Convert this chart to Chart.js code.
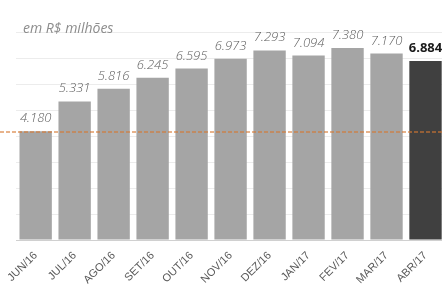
<!DOCTYPE html>
<html>
<head>
<meta charset="utf-8">
<script src="https://cdn.jsdelivr.net/npm/chart.js@4.4.0/dist/chart.umd.min.js"></script>
<style>
  html, body { margin: 0; padding: 0; background: #fff; overflow: hidden; }
  #wrap { position: absolute; left: 0; top: 0; width: 446px; height: 286px; }
  #titulo {
    position: absolute; left: 23px; top: 18px;
    font: italic 14px "Open Sans", sans-serif; color: #8c8c8c;
  }
</style>
</head>
<body>
<div id="wrap"><canvas id="chart"></canvas></div>
<div id="titulo">em R$ milhões</div>
<script>
// dados do grafico
const meses = ['JUN/16', 'JUL/16', 'AGO/16', 'SET/16', 'OUT/16', 'NOV/16', 'DEZ/16', 'JAN/17', 'FEV/17', 'MAR/17', 'ABR/17'];
const valores = [4180, 5331, 5816, 6245, 6595, 6973, 7293, 7094, 7380, 7170, 6884];
const rotulos = ['4.180', '5.331', '5.816', '6.245', '6.595', '6.973', '7.293', '7.094', '7.380', '7.170', '6.884'];
const referencia = 4180; // linha tracejada (valor de JUN/16)

const cores = valores.map((v, i) => i === valores.length - 1 ? '#404040' : '#a5a5a5');

// desenha os valores acima das barras e a linha de referencia
const rotulosPlugin = {
  id: 'rotulos',
  afterDatasetsDraw(chart) {
    const ctx = chart.ctx;
    const meta = chart.getDatasetMeta(0);
    ctx.save();
    ctx.textAlign = 'center';
    ctx.textBaseline = 'alphabetic';
    meta.data.forEach((bar, i) => {
      const ultimo = i === meta.data.length - 1;
      ctx.font = ultimo ? 'bold 13px "Open Sans", sans-serif' : 'italic 300 13px "Open Sans", sans-serif';
      ctx.fillStyle = ultimo ? '#1a1a1a' : '#5e5e5e';
      ctx.fillText(rotulos[i], bar.x, bar.y - 9);
    });
    // linha laranja tracejada
    const y = Math.round(chart.scales.y.getPixelForValue(referencia)) + 1;
    ctx.strokeStyle = 'rgba(214, 120, 50, 0.75)';
    ctx.lineWidth = 1.5;
    ctx.setLineDash([4, 2]);
    ctx.beginPath();
    ctx.moveTo(0, y);
    ctx.lineTo(chart.width, y);
    ctx.stroke();
    ctx.restore();
  }
};

const ctx = document.getElementById('chart').getContext('2d');
new Chart(ctx, {
  type: 'bar',
  data: {
    labels: meses,
    datasets: [{
      data: valores,
      backgroundColor: cores,
      categoryPercentage: 1,
      barPercentage: 0.83
    }]
  },
  options: {
    responsive: true,
    maintainAspectRatio: false,
    animation: false,
    layout: { padding: { top: 32, left: 16, right: 1, bottom: 0 } },
    plugins: { legend: { display: false }, tooltip: { enabled: false } },
    scales: {
      x: {
        grid: { display: false, drawTicks: false },
        border: { display: true, color: '#d0d0d0' },
        ticks: {
          color: '#595959',
          font: { family: 'Liberation Sans', size: 11 },
          minRotation: 45, maxRotation: 45,
          padding: 9
        },
        afterFit(scale) { scale.height = 46; }
      },
      y: {
        min: 0, max: 8000,
        ticks: { display: false, stepSize: 1000 },
        border: { display: false },
        grid: { color: '#ececec', drawTicks: false },
        afterFit(scale) { scale.width = 0; }
      }
    }
  },
  plugins: [rotulosPlugin]
});
</script>
</body>
</html>
